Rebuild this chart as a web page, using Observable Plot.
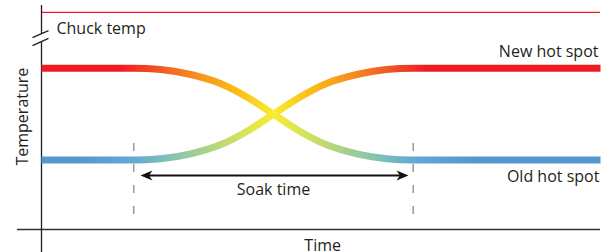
<!DOCTYPE html>
<html>
<head>
<meta charset="utf-8">
<script src="https://cdn.jsdelivr.net/npm/d3@7"></script>
<script src="https://cdn.jsdelivr.net/npm/@observablehq/plot@0.6"></script>
<style>
  html, body { margin: 0; padding: 0; background: white; }
  svg { display: block; }
</style>
</head>
<body>
<div id="chart"></div>
<script>
// ---- data (time in arbitrary units 0..100, temperature in arbitrary units 0..100)
const time    = [0, 16.5, 21.3, 26.7, 32, 37.4, 41.5, 45.6, 51, 56.4, 61.7, 66.5, 100];
const oldSpot = [72, 72, 71.4, 69.2, 65.2, 58.2, 51.5, 44.8, 37.8, 33.8, 31.6, 31, 31];
const newSpot = [31, 31, 31.6, 33.8, 37.8, 44.8, 51.5, 58.2, 65.2, 69.2, 71.4, 72, 72];
const chuckTemp = 96.9;
const soakStart = 16.5;
const soakEnd = 66.5;
const labels = ["Chuck temp", "New hot spot", "Old hot spot", "Soak time", "Time", "Temperature"];

// gradient stops along time for each curve
const oldStopT = [14.1, 21.3, 28.4, 35.6, 41.5, 48.1, 54.4, 60.6, 66.5, 76.7];
const newStopT = [6.3, 16.5, 22.4, 28.6, 34.9, 41.5, 47.4, 54.6, 61.7, 68.9];
const warmToCool = ["#ed1c24", "#f15a24", "#f7941d", "#fbc11a", "#f9ec31", "#cfe063", "#a6d08c", "#80c0b6", "#62a9d6", "#5497d2"];
const coolToWarm = warmToCool.slice().reverse();

const oldData = time.map((t, i) => ({t, v: oldSpot[i]}));
const newData = time.map((t, i) => ({t, v: newSpot[i]}));

const arrowHead = {
  draw(ctx) {
    ctx.moveTo(0, 0);
    ctx.lineTo(-12, -5);
    ctx.lineTo(-8.5, 0);
    ctx.lineTo(-12, 5);
    ctx.closePath();
  }
};

const ink = "#231f20";

const chart = Plot.plot({
  width: 613,
  height: 252,
  marginLeft: 41,
  marginRight: 13,
  marginTop: 5,
  marginBottom: 23,
  x: {domain: [0, 100], axis: null},
  y: {domain: [0, 100], axis: null},
  style: {fontFamily: "'Open Sans', sans-serif", fontSize: "16px", background: "white", overflow: "visible", color: ink},
  marks: [
    // chuck temperature
    Plot.ruleY([chuckTemp], {stroke: "#ed1c24", strokeWidth: 1.2}),
    // x axis line
    Plot.ruleY([0], {x1: -4.3, x2: 100, stroke: "#333", strokeWidth: 1.3}),
    // y axis line with break
    Plot.ruleX([0], {y1: 100, y2: 87.3, stroke: ink, strokeWidth: 1.3}),
    Plot.ruleX([0], {y1: 83.7, y2: -10.3, stroke: ink, strokeWidth: 1.3}),
    Plot.link([[-1.61, 85.7, 1.25, 88.8], [-1.61, 82.1, 1.25, 85.3]], {
      x1: d => d[0], y1: d => d[1], x2: d => d[2], y2: d => d[3], stroke: ink, strokeWidth: 1.3
    }),
    // soak boundaries
    Plot.ruleX([soakStart, soakEnd], {y1: 38.4, y2: 3.1, stroke: "#9d9d9d", strokeWidth: 1.6, strokeDasharray: "8,13"}),
    // curves
    Plot.line(newData, {x: "t", y: "v", curve: "monotone-x", stroke: "url(#gradNew)", strokeWidth: 7, strokeLinecap: "butt"}),
    Plot.line(oldData, {x: "t", y: "v", curve: "monotone-x", stroke: "url(#gradOld)", strokeWidth: 7, strokeLinecap: "butt"}),
    // soak time arrow
    Plot.link([[19, 64.4]], {x1: d => d[0], x2: d => d[1], y1: 24.1, y2: 24.1, stroke: "#111", strokeWidth: 2}),
    Plot.dot([[17.71, 180], [65.65, 0]], {x: d => d[0], y: 24.1, rotate: d => d[1], symbol: arrowHead, fill: "#111", stroke: "none"}),
    // labels
    Plot.text([labels[0]], {x: 2.68, y: 87.5, text: d => d, textAnchor: "start", lineAnchor: "bottom", fill: ink}),
    Plot.text([labels[1]], {x: 99.64, y: 76.8, text: d => d, textAnchor: "end", lineAnchor: "bottom", fill: ink}),
    Plot.text([labels[2]], {x: 99.8, y: 21.0, text: d => d, textAnchor: "end", lineAnchor: "bottom", fill: ink}),
    Plot.text([labels[3]], {x: 41.5, y: 15.2, text: d => d, textAnchor: "middle", lineAnchor: "bottom", fill: ink}),
    Plot.text([labels[4]], {x: 50.3, y: -9.4, text: d => d, textAnchor: "middle", lineAnchor: "bottom", fill: ink}),
    Plot.text([labels[5]], {x: -2.33, y: 50.4, text: d => d, textAnchor: "middle", lineAnchor: "bottom", rotate: -90, fill: ink})
  ]
});

// gradients defined in user space along the x scale
const xs = chart.scale("x");
const svg = d3.select(chart);
const defs = svg.insert("defs", ":first-child");
function addGradient(id, stops, colors) {
  const g = defs.append("linearGradient")
    .attr("id", id)
    .attr("gradientUnits", "userSpaceOnUse")
    .attr("x1", xs.apply(0)).attr("x2", xs.apply(100))
    .attr("y1", 0).attr("y2", 0);
  stops.forEach((t, i) => {
    g.append("stop").attr("offset", (xs.apply(t) - xs.apply(0)) / (xs.apply(100) - xs.apply(0))).attr("stop-color", colors[i]);
  });
}
addGradient("gradOld", oldStopT, warmToCool);
addGradient("gradNew", newStopT, coolToWarm);

document.getElementById("chart").appendChild(chart);
</script>
</body>
</html>
